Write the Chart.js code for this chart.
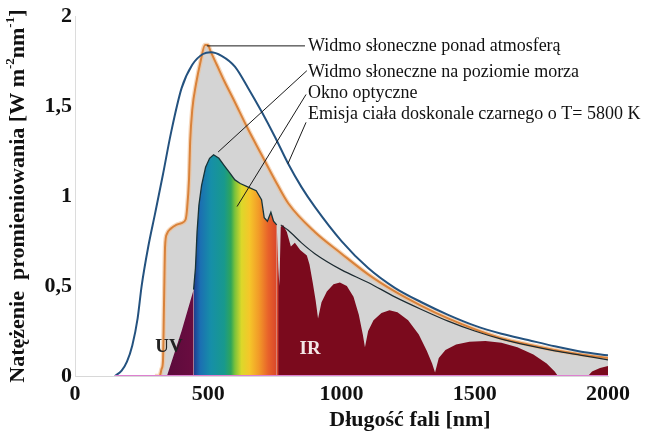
<!DOCTYPE html>
<html>
<head>
<meta charset="utf-8">
<script src="https://cdn.jsdelivr.net/npm/chart.js@4"></script>
<style>
  html, body { margin: 0; padding: 0; background: #fff; }
  #wrap { width: 645px; height: 438px; }
</style>
</head>
<body>
<div id="wrap"><canvas id="solarChart"></canvas></div>
<script>
// wavelength [nm] / irradiance [W m-2 nm-1]
const bbNm  = [150,175,195,215,235,250,275,300,330,360,400,440,480,510,550,600,650,700,750,800,850,900,1000,1100,1200,1300,1400,1500,1600,1700,1800,1900,2000];
const bbVal = [0,0.03,0.08,0.17,0.32,0.5,0.72,0.9,1.12,1.35,1.6,1.73,1.79,1.80,1.78,1.72,1.60,1.47,1.33,1.18,1.05,0.94,0.75,0.6,0.49,0.41,0.34,0.28,0.235,0.20,0.165,0.135,0.115];

const topNm  = [300,318,325,330,334,338,345,360,380,400,415,420,428,432,440,455,470,488,498,510,532,560,594,650,700,750,800,900,1000,1100,1200,1300,1400,1500,1600,1700,1800,1900,2000];
const topVal = [0,0,0.04,0.08,0.4,0.72,0.79,0.82,0.84,0.85,0.87,0.92,1.1,1.3,1.48,1.63,1.74,1.84,1.84,1.80,1.73,1.64,1.54,1.37,1.23,1.09,0.96,0.80,0.68,0.565,0.47,0.39,0.32,0.26,0.21,0.175,0.145,0.12,0.10];

const seaNm  = [345,400,445,452,458,465,475,490,505,520,540,560,580,600,620,650,680,700,710,722,735,745,757,763,767,772,781,795,810,825,845,870,880,892,903,912,925,945,970,994,1020,1045,1065,1080,1088,1100,1120,1150,1180,1210,1250,1290,1320,1340,1351,1365,1390,1430,1480,1540,1600,1660,1720,1770,1800,1812,1925,1940,1970,2000];
const seaVal = [0,0.25,0.48,0.6,0.8,0.95,1.06,1.16,1.21,1.23,1.21,1.17,1.13,1.09,1.07,1.05,1.03,0.98,0.88,0.86,0.91,0.86,0.84,0.6,0.5,0.83,0.84,0.8,0.72,0.74,0.7,0.67,0.62,0.52,0.42,0.32,0.41,0.47,0.51,0.52,0.5,0.44,0.34,0.23,0.16,0.25,0.31,0.35,0.365,0.355,0.31,0.23,0.14,0.07,0.02,0.1,0.145,0.175,0.19,0.195,0.185,0.16,0.12,0.07,0.025,0,0,0.025,0.045,0.055];

const envNm  = [772,800,850,900,1000,1100,1200,1300,1400,1500,1600,1700,1800,1900,2000];
const envVal = [0.84,0.81,0.74,0.68,0.59,0.52,0.44,0.37,0.305,0.25,0.205,0.17,0.14,0.115,0.09];

const baseNm  = [150, 2000];
const baseVal = [0, 0];

const xTicks = [0, 500, 1000, 1500, 2000];
const yTicks = [0, 0.5, 1, 1.5, 2];

const noteText = ['Widmo słoneczne ponad atmosferą', 'Widmo słoneczne na poziomie morza', 'Okno optyczne', 'Emisja ciała doskonale czarnego o T= 5800 K'];
const noteNm   = [874, 874, 874, 874];
const noteVal  = [1.835, 1.686, 1.57, 1.455];
const leadFromNm  = [495, 537, 608, 799];
const leadFromVal = [1.835, 1.245, 0.942, 1.18];
const leadToNm    = [863, 870, 867, 867];
const leadToVal   = [1.835, 1.697, 1.565, 1.41];

const SERIF = "'Liberation Serif', 'Times New Roman', serif";

// colour of the sea-level area along the wavelength axis
const spectrumNm    = [345, 445, 447, 470, 510, 560, 585, 600, 625, 655, 690, 725, 760, 766, 2000];
const spectrumColor = ['#5c0b3c', '#6a0c40', '#203f92', '#1b6fb2', '#168fa8', '#18998d', '#2fa55a', '#7cc23a', '#dcd82a', '#f5c62a', '#f29a28', '#e8622a', '#d8442a', '#7b0a1d', '#7b0a1d'];

const pts = (xs, ys) => xs.map((x, i) => ({ x, y: ys[i] }));

function spectrumFill(context) {
  const { ctx, chartArea, scales } = context.chart;
  if (!chartArea) return '#7b0a1d';
  const x0 = scales.x.getPixelForValue(0);
  const x1 = scales.x.getPixelForValue(2000);
  const g = ctx.createLinearGradient(x0, 0, x1, 0);
  spectrumNm.forEach((nm, i) => g.addColorStop(nm / 2000, spectrumColor[i]));
  return g;
}

const notesPlugin = {
  id: 'notes',
  afterDatasetsDraw(chart) {
    const { ctx, chartArea, scales: { x, y } } = chart;
    ctx.save();
    ctx.strokeStyle = '#1a1a1a';
    ctx.lineWidth = 1;
    leadFromNm.forEach((nm, i) => {
      ctx.beginPath();
      ctx.moveTo(x.getPixelForValue(nm), y.getPixelForValue(leadFromVal[i]));
      ctx.lineTo(x.getPixelForValue(leadToNm[i]), y.getPixelForValue(leadToVal[i]));
      ctx.stroke();
    });
    ctx.fillStyle = '#111';
    ctx.font = '18px ' + SERIF;
    ctx.textBaseline = 'middle';
    ctx.textAlign = 'left';
    noteText.forEach((t, i) => ctx.fillText(t, x.getPixelForValue(noteNm[i]), y.getPixelForValue(noteVal[i])));

    ctx.font = 'bold 19px ' + SERIF;
    ctx.textAlign = 'center';
    ctx.fillStyle = '#222';
    ctx.fillText('UV', x.getPixelForValue(353), y.getPixelForValue(0.16));
    ctx.fillStyle = '#f3e6e6';
    ctx.fillText('IR', x.getPixelForValue(882), y.getPixelForValue(0.15));

    // axis titles
    ctx.fillStyle = '#111';
    ctx.font = 'bold 22px ' + SERIF;
    ctx.fillText('Długość fali [nm]', x.getPixelForValue(1257), chartArea.bottom + 44);

    const parts = [['Natężenie  promieniowania [W m', false], ['-2', true], ['nm', false], ['-1', true], [']', false]];
    const fontOf = sup => sup ? 'bold 13px ' + SERIF : 'bold 22px ' + SERIF;
    let total = 0;
    parts.forEach(([t, sup]) => { ctx.font = fontOf(sup); total += ctx.measureText(t).width; });
    ctx.translate(18, (chartArea.top + chartArea.bottom) / 2);
    ctx.rotate(-Math.PI / 2);
    ctx.textAlign = 'left';
    let pos = -total / 2;
    parts.forEach(([t, sup]) => {
      ctx.font = fontOf(sup);
      ctx.fillText(t, pos, sup ? -7 : 0);
      pos += ctx.measureText(t).width;
    });
    ctx.restore();
  }
};

new Chart(document.getElementById('solarChart'), {
  type: 'line',
  data: {
    datasets: [
      { data: pts(baseNm, baseVal), borderColor: '#dd80d0', borderWidth: 2, pointRadius: 0, fill: false, order: 0 },
      { data: pts(bbNm, bbVal), borderColor: '#24527f', borderWidth: 2, pointRadius: 0, fill: false, cubicInterpolationMode: 'monotone', order: 1 },
      { data: pts(envNm, envVal), borderColor: '#1c2a30', borderWidth: 1.2, pointRadius: 0, fill: false, cubicInterpolationMode: 'monotone', order: 2 },
      { data: pts(topNm, topVal), borderColor: '#d9823a', borderWidth: 2, pointRadius: 0, fill: false, cubicInterpolationMode: 'monotone', order: 3 },
      { data: pts(topNm, topVal), borderColor: 'rgba(240,190,145,0.6)', borderWidth: 4.5, pointRadius: 0, fill: false, cubicInterpolationMode: 'monotone', order: 4 },
      {
        data: pts(seaNm, seaVal), backgroundColor: spectrumFill, fill: 'origin', pointRadius: 0, tension: 0, borderWidth: 1.3, order: 5,
        segment: { borderColor: c => (c.p0.parsed.x >= 445 && c.p1.parsed.x <= 760 ? '#173438' : 'rgba(0,0,0,0)') }
      },
      { data: pts(topNm, topVal), backgroundColor: '#d4d4d4', borderWidth: 0, pointRadius: 0, fill: 'origin', cubicInterpolationMode: 'monotone', order: 6 }
    ]
  },
  options: {
    responsive: true,
    maintainAspectRatio: false,
    animation: false,
    layout: { padding: { left: 0, right: 37, top: 13, bottom: 0 } },
    plugins: { legend: { display: false }, tooltip: { enabled: false } },
    scales: {
      x: {
        type: 'linear', min: 0, max: 2000,
        afterBuildTicks: s => { s.ticks = xTicks.map(v => ({ value: v })); },
        afterFit: s => { s.height = 62; },
        grid: { display: false, drawTicks: false },
        border: { display: true, color: '#d8d8d8' },
        ticks: { color: '#111', padding: 5, font: { family: SERIF, size: 22, weight: 'bold' },
                 callback: v => String(v) }
      },
      y: {
        min: 0, max: 2,
        afterBuildTicks: s => { s.ticks = yTicks.map(v => ({ value: v })); },
        afterFit: s => { s.width = 75; },
        grid: { display: false, drawTicks: false },
        border: { display: true, color: '#dcdcdc' },
        ticks: { color: '#111', padding: 3, font: { family: SERIF, size: 22, weight: 'bold' },
                 callback: v => String(v).replace('.', ',') }
      }
    }
  },
  plugins: [notesPlugin]
});
</script>
</body>
</html>
